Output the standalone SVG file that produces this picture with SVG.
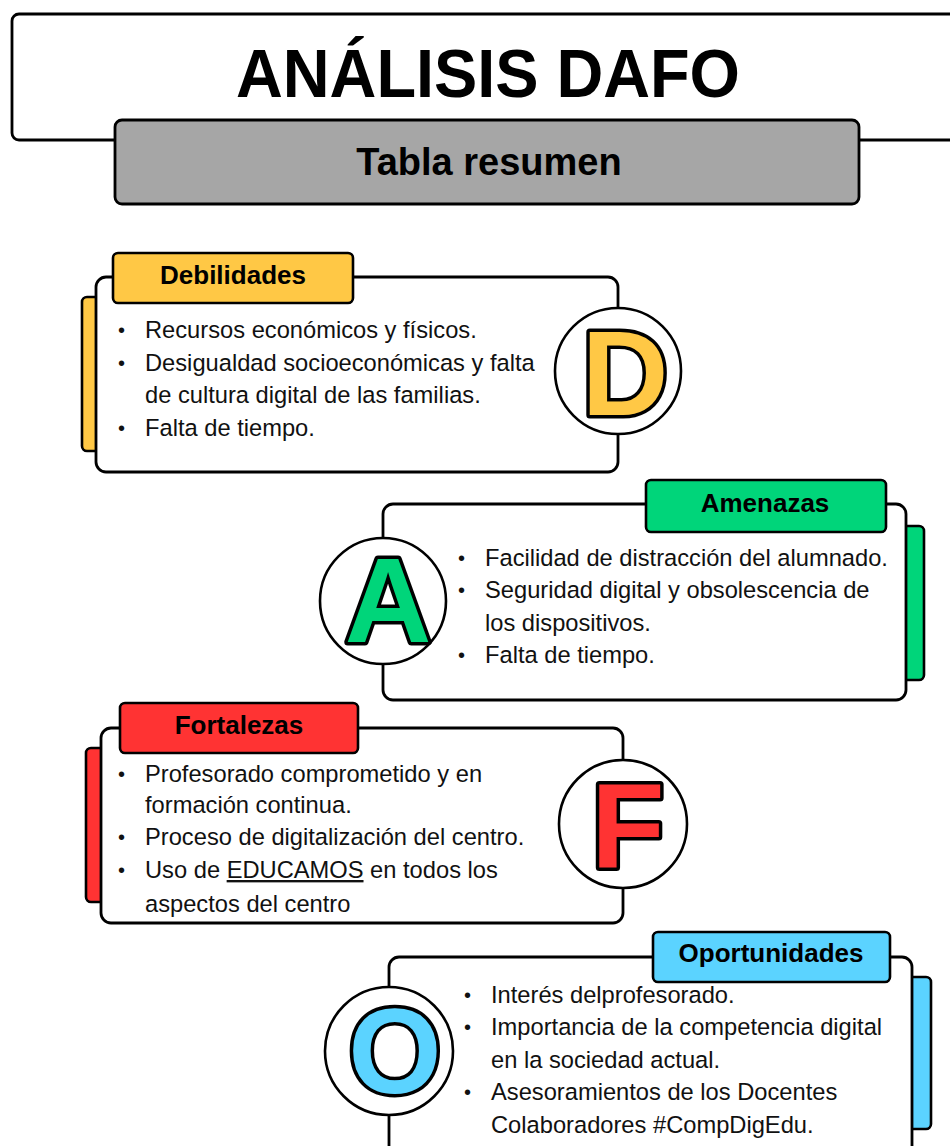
<svg xmlns="http://www.w3.org/2000/svg" width="950" height="1146" viewBox="0 0 950 1146">
<style>
.box{fill:#fff;stroke:#000;stroke-width:2.8}
.lab{stroke:#000;stroke-width:2.6}
.tab{stroke:#000;stroke-width:2.6}
.circ{fill:#fff;stroke:#000;stroke-width:2.6}
.big{font-family:"Liberation Sans",Arial,sans-serif;font-weight:bold;font-size:120px;stroke:#000;stroke-width:7;paint-order:stroke;stroke-linejoin:round;text-anchor:middle}
.lt{font-family:"Liberation Sans",Arial,sans-serif;font-weight:bold;font-size:26px;fill:#000;text-anchor:middle}
.body{font-family:"Liberation Sans",Arial,sans-serif;font-size:23.7px;fill:#111}
.bul{font-size:20px}
.yel{fill:#FFC845}.grn{fill:#00D57A}.red{fill:#FF3333}.blu{fill:#5BD3FF}
</style>
<rect width="950" height="1146" fill="#fff"/>
<g id="title">
<rect x="12" y="14" width="960" height="126" rx="7" class="box"/>
<text x="488" y="97" font-family="'Liberation Sans',Arial,sans-serif" font-weight="bold" font-size="68" text-anchor="middle" textLength="504" lengthAdjust="spacingAndGlyphs">ANÁLISIS DAFO</text>
</g>
<g id="subtitle">
<rect x="115" y="120" width="744" height="84" rx="7" fill="#A6A6A6" stroke="#000" stroke-width="2.8"/>
<text x="489" y="175" font-family="'Liberation Sans',Arial,sans-serif" font-weight="bold" font-size="38" text-anchor="middle">Tabla resumen</text>
</g>
<g id="debilidades">
<rect x="82" y="297" width="22" height="154" rx="5" class="tab yel"/>
<rect x="96" y="277" width="522" height="195" rx="10" class="box"/>
<rect x="113" y="253" width="240" height="50" rx="5" class="lab yel"/>
<text x="233" y="284" class="lt">Debilidades</text>
<circle cx="618" cy="371" r="63" class="circ"/>
<text x="625" y="415" class="big yel">D</text>
<text class="body">
<tspan x="118" y="337" class="bul">•</tspan><tspan x="145" y="338">Recursos económicos y físicos.</tspan>
<tspan x="118" y="370" class="bul">•</tspan><tspan x="145" y="371">Desigualdad socioeconómicas y falta</tspan>
<tspan x="145" y="403">de cultura digital de las familias.</tspan>
<tspan x="118" y="435" class="bul">•</tspan><tspan x="145" y="436">Falta de tiempo.</tspan>
</text>
</g>
<g id="amenazas">
<rect x="896" y="526" width="28" height="154" rx="5" class="tab grn"/>
<rect x="383" y="504" width="523" height="196" rx="10" class="box"/>
<rect x="646" y="480" width="240" height="52" rx="5" class="lab grn"/>
<text x="765" y="512" class="lt">Amenazas</text>
<circle cx="383" cy="601" r="63" class="circ"/>
<text x="388" y="642" class="big grn">A</text>
<text class="body">
<tspan x="458" y="565" class="bul">•</tspan><tspan x="485" y="566">Facilidad de distracción del alumnado.</tspan>
<tspan x="458" y="597" class="bul">•</tspan><tspan x="485" y="598">Seguridad digital y obsolescencia de</tspan>
<tspan x="485" y="631">los dispositivos.</tspan>
<tspan x="458" y="662" class="bul">•</tspan><tspan x="485" y="663">Falta de tiempo.</tspan>
</text>
</g>
<g id="fortalezas">
<rect x="86" y="748" width="22" height="154" rx="5" class="tab red"/>
<rect x="101" y="728" width="522" height="195" rx="10" class="box"/>
<rect x="120" y="703" width="238" height="50" rx="5" class="lab red"/>
<text x="239" y="734" class="lt">Fortalezas</text>
<circle cx="623" cy="824" r="64" class="circ"/>
<text x="628" y="867" class="big red">F</text>
<text class="body">
<tspan x="118" y="781" class="bul">•</tspan><tspan x="145" y="782">Profesorado comprometido y en</tspan>
<tspan x="145" y="813">formación continua.</tspan>
<tspan x="118" y="844" class="bul">•</tspan><tspan x="145" y="845">Proceso de digitalización del centro.</tspan>
<tspan x="118" y="877" class="bul">•</tspan><tspan x="145" y="878">Uso de </tspan><tspan text-decoration="underline">EDUCAMOS</tspan><tspan> en todos los</tspan>
<tspan x="145" y="912">aspectos del centro</tspan>
</text>
</g>
<g id="oportunidades">
<rect x="903" y="977" width="28" height="152" rx="5" class="tab blu"/>
<rect x="389" y="957" width="523" height="200" rx="10" class="box"/>
<rect x="653" y="932" width="237" height="50" rx="5" class="lab blu"/>
<text x="771" y="962" class="lt">Oportunidades</text>
<circle cx="389" cy="1051" r="64" class="circ"/>
<text x="395" y="1093" class="big blu">O</text>
<text class="body">
<tspan x="464" y="1002" class="bul">•</tspan><tspan x="491" y="1003">Interés delprofesorado.</tspan>
<tspan x="464" y="1034" class="bul">•</tspan><tspan x="491" y="1035">Importancia de la competencia digital</tspan>
<tspan x="491" y="1068">en la sociedad actual.</tspan>
<tspan x="464" y="1099" class="bul">•</tspan><tspan x="491" y="1100">Asesoramientos de los Docentes</tspan>
<tspan x="491" y="1133">Colaboradores #CompDigEdu.</tspan>
</text>
</g>
</svg>
